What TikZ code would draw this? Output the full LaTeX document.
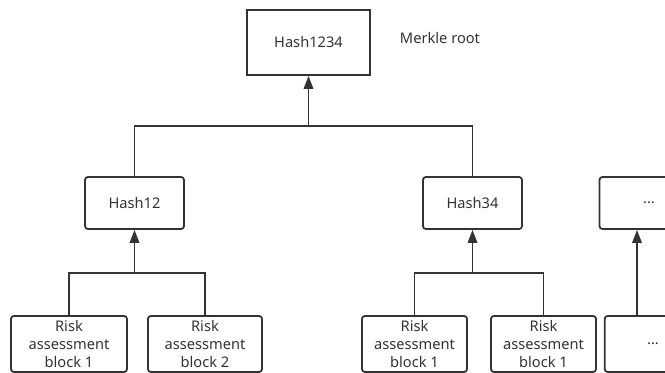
\documentclass[tikz,border=0pt]{standalone}
\usepackage{fontspec}
\setmainfont{Noto Sans}
\usetikzlibrary{arrows.meta}
\definecolor{linegray}{HTML}{333333}
\tikzset{
	hashbox/.style={draw=linegray, line width=1.5pt, rounded corners=2.5pt, minimum width=2.97cm, minimum height=1.56cm, inner sep=0pt},
	rootbox/.style={draw=linegray, line width=1.5pt, minimum width=3.69cm, minimum height=1.95cm, inner sep=0pt},
	leafbox/.style={draw=linegray, line width=1.5pt, rounded corners=2.5pt, minimum height=1.68cm, inner sep=0pt, align=center},
	link/.style={draw=linegray, line width=1.6pt},
	uparrow/.style={link, -{Triangle[width=8pt,length=11pt]}}
}

\begin{document}
\begin{tikzpicture}[x=0.03cm, y=-0.03cm, font=\fontsize{12.5}{15.3}\selectfont, text=black!80]
			%%%%% START %%%%%
			\useasboundingbox (0, 0) rectangle (665, 373);
			\clip (0, 0) rectangle (665, 373);
			
			% root
			\node[rootbox] (root) at (308.5, 42.5) {Hash1234};
			\node (rootlabel) at (440, 38) {Merkle root};
			
			% middle level
			\node[hashbox] (hash12) at (134.5, 203) {Hash12};
			\node[hashbox] (hash34) at (472.5, 203) {Hash34};
			\node[hashbox] (hashmore) at (649, 203) {...};
			
			% leaves
			\node[leafbox, minimum width=3.48cm] (block1) at (69, 344) {Risk\\assessment\\block 1};
			\node[leafbox, minimum width=3.42cm] (block2) at (205, 344) {Risk\\assessment\\block 2};
			\node[leafbox, minimum width=3.15cm] (block3) at (414.5, 344) {Risk\\assessment\\block 1};
			\node[leafbox, minimum width=3.15cm] (block4) at (543.5, 344) {Risk\\assessment\\block 1};
			\node[leafbox, minimum width=2.9cm] (blockmore) at (653, 344) {...};
			
			% joints
			\coordinate (j1234) at (308.5, 126);
			\coordinate (j12) at (134.5, 273);
			\coordinate (j34) at (472.5, 273);
			\coordinate (moretop) at (637, 229);
			\coordinate (morebot) at (637, 316);
			
			% connectors
			\draw[link] (hash12.north) |- (j1234) -| (hash34.north);
			\draw[uparrow] (j1234) -- (root.south);
			
			\draw[link] (block1.north) |- (j12) -| (block2.north);
			\draw[uparrow] (j12) -- (hash12.south);
			
			\draw[link] (block3.north) |- (j34) -| (block4.north);
			\draw[uparrow] (j34) -- (hash34.south);
			
			\draw[uparrow] (morebot |- blockmore.north) -- (moretop |- hashmore.south);
			%%%%% END %%%%%
\end{tikzpicture}
\end{document}
